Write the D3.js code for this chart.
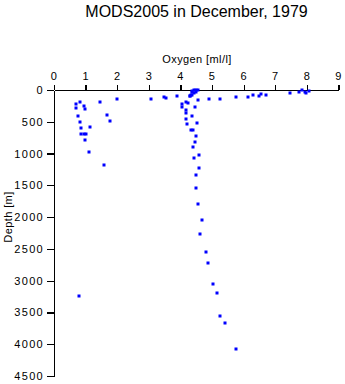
<!DOCTYPE html>
<html><head><meta charset="utf-8">
<script src="https://cdn.jsdelivr.net/npm/d3@7"></script>
<style>body{margin:0;background:#fff}svg{display:block}text{font-family:"Liberation Sans",Arial,sans-serif;fill:#000}</style>
</head><body>
<script>
const title = "MODS2005 in December, 1979";
const xLabel = "Oxygen [ml/l]";
const yLabel = "Depth [m]";
const xTicks = [0,1,2,3,4,5,6,7,8,9];
const yTicks = [0,500,1000,1500,2000,2500,3000,3500,4000,4500];
const oxygen = [0.70,0.71,0.82,0.96,0.99,0.77,0.83,0.84,1.14,0.86,0.95,1.01,0.99,1.10,1.47,1.69,1.76,1.59,1.98,3.08,3.47,3.55,3.90,4.04,4.06,4.18,4.24,4.19,4.19,4.19,4.22,4.36,4.34,4.39,4.39,4.44,4.50,4.50,4.55,4.46,4.53,4.50,4.46,4.60,4.60,4.57,4.69,4.63,4.82,4.88,5.03,5.17,5.24,5.42,5.77,0.78,
  4.38,4.42,4.48,4.57,4.31,4.37,4.43,4.49,4.37,4.34,4.29,4.91,5.26,5.77,6.15,6.31,6.50,6.56,6.72,7.45,7.76,7.85,7.93,7.97,8.08];
const depth = [225,283,194,247,299,414,508,603,587,688,688,688,791,980,189,398,492,1185,146,142,115,131,99,272,225,194,209,315,367,456,540,414,625,634,897,1075,1342,1547,1798,267,524,724,823,1027,1232,162,2045,2266,2554,2727,3057,3199,3560,3666,4070,3246,
  11,42,27,5,94,74,0,0,31,83,99,137,142,110,115,83,99,68,74,52,36,5,27,42,20];

const W=345,H=384;
const svg=d3.select("body").append("svg").attr("width",W).attr("height",H);
const x=d3.scaleLinear().domain([0,9]).range([54,338.5]);
const y=d3.scaleLinear().domain([0,4500]).range([90,376]);

svg.append("text").attr("x",196.5).attr("y",17).attr("text-anchor","middle").style("font-size","16px").text(title);
svg.append("text").attr("x",197).attr("y",63).attr("text-anchor","middle").style("font-size","11px").style("letter-spacing","0.4px").text(xLabel);
svg.append("text").attr("transform","translate(12,217) rotate(-90)").attr("text-anchor","middle").style("font-size","11px").style("letter-spacing","0.4px").text(yLabel);

const xa=svg.append("g").attr("transform","translate(0,90)")
  .call(d3.axisTop(x).tickValues(xTicks).tickFormat(d3.format("d")).tickSize(5).tickPadding(5).tickSizeOuter(0));
const ya=svg.append("g").attr("transform","translate(54,0)")
  .call(d3.axisLeft(y).tickValues(yTicks).tickFormat(d3.format("d")).tickSize(7).tickPadding(3).tickSizeOuter(0));
[xa,ya].forEach(a=>{a.selectAll("path,line").attr("stroke","#000").attr("stroke-width",1.3).attr("shape-rendering","crispEdges");
  a.selectAll("text").style("font-size","11px").style("letter-spacing","1.3px").style("font-family","'Liberation Sans',Arial,sans-serif");});

svg.append("g").selectAll("rect").data(oxygen.map((o,i)=>[o,depth[i]])).join("rect")
  .attr("x",d=>Math.round(x(d[0]))-1.5).attr("y",d=>Math.round(y(d[1]))-1.5)
  .attr("width",3).attr("height",3).attr("fill","#0000ff");
</script>
</body></html>
